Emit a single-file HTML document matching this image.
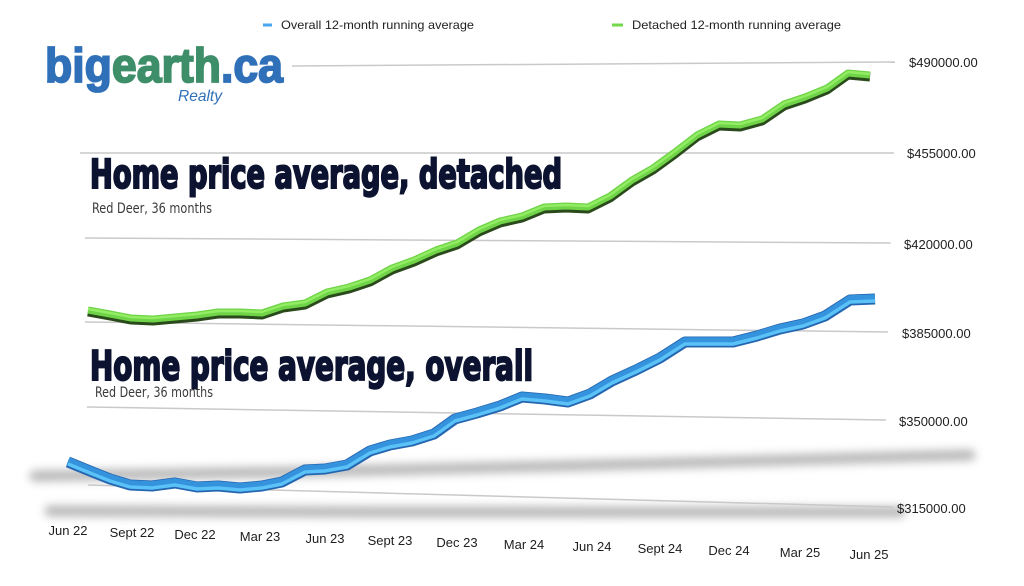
<!DOCTYPE html>
<html>
<head>
<meta charset="utf-8">
<style>
html,body{margin:0;padding:0;background:#fff;}
body{width:1024px;height:586px;overflow:hidden;}
svg{display:block;}
</style>
</head>
<body>
<svg width="1024" height="586" viewBox="0 0 1024 586" xmlns="http://www.w3.org/2000/svg">
<defs>
  <filter id="blur" filterUnits="userSpaceOnUse" x="0" y="0" width="1024" height="586">
    <feGaussianBlur stdDeviation="4.5"/>
  </filter>
</defs>
<rect width="1024" height="586" fill="#ffffff"/>

<!-- floor shadows -->
<path d="M35,476 C200,474 400,470 560,466 C720,461 850,457 970,455" stroke="#9a9a9a" stroke-width="11" fill="none" filter="url(#blur)" stroke-linecap="round" opacity="0.7"/>
<path d="M50,511 C250,512 500,512 700,512 C800,512 860,512 900,512" stroke="#9a9a9a" stroke-width="11" fill="none" filter="url(#blur)" stroke-linecap="round" opacity="0.7"/>

<!-- gridlines -->
<g stroke="#c9c9c9" stroke-width="1.5" fill="none">
  <line x1="292" y1="66" x2="895" y2="62"/>
  <line x1="80" y1="153" x2="894" y2="153"/>
  <line x1="85" y1="238" x2="891" y2="243"/>
  <line x1="85" y1="322" x2="888" y2="332"/>
  <line x1="87" y1="407" x2="886" y2="420"/>
  <line x1="88" y1="485" x2="893" y2="507"/>
</g>

<!-- Y labels -->
<g font-family="Liberation Sans, Arial, sans-serif" font-size="13" fill="#1e1e1e">
  <text x="909" y="67">$490000.00</text>
  <text x="907" y="158">$455000.00</text>
  <text x="904" y="249">$420000.00</text>
  <text x="902" y="338">$385000.00</text>
  <text x="899" y="426">$350000.00</text>
  <text x="897" y="513">$315000.00</text>
</g>

<!-- X labels -->
<g font-family="Liberation Sans, Arial, sans-serif" font-size="13" fill="#1e1e1e" text-anchor="middle">
  <text x="68" y="535">Jun 22</text>
  <text x="132" y="537">Sept 22</text>
  <text x="195" y="539">Dec 22</text>
  <text x="260" y="541">Mar 23</text>
  <text x="325" y="543">Jun 23</text>
  <text x="390" y="545">Sept 23</text>
  <text x="457" y="547">Dec 23</text>
  <text x="524" y="549">Mar 24</text>
  <text x="592" y="551">Jun 24</text>
  <text x="660" y="553">Sept 24</text>
  <text x="729" y="555">Dec 24</text>
  <text x="800" y="557">Mar 25</text>
  <text x="869" y="559">Jun 25</text>
</g>

<!-- Legend -->
<line x1="263" y1="25" x2="272" y2="25" stroke="#4aa6ee" stroke-width="3"/>
<text x="281" y="29" font-family="Liberation Sans, Arial, sans-serif" font-size="12" fill="#222" textLength="193" lengthAdjust="spacingAndGlyphs">Overall 12-month running average</text>
<line x1="612" y1="25" x2="623" y2="25" stroke="#72d84a" stroke-width="3"/>
<text x="632" y="29" font-family="Liberation Sans, Arial, sans-serif" font-size="12" fill="#222" textLength="209" lengthAdjust="spacingAndGlyphs">Detached 12-month running average</text>

<!-- Headings -->
<text x="90" y="188" font-family="Liberation Sans Narrow, DejaVu Sans Condensed, sans-serif" font-weight="bold" font-size="40" fill="#0c1330" stroke="#0c1330" stroke-width="2" textLength="472" lengthAdjust="spacingAndGlyphs">Home price average, detached</text>
<text x="92" y="213" font-family="Liberation Sans Narrow, DejaVu Sans Condensed, sans-serif" font-size="14" fill="#3a3a3a" textLength="120" lengthAdjust="spacingAndGlyphs">Red Deer, 36 months</text>

<text x="90" y="380" font-family="Liberation Sans Narrow, DejaVu Sans Condensed, sans-serif" font-weight="bold" font-size="41" fill="#0c1330" stroke="#0c1330" stroke-width="2" textLength="443" lengthAdjust="spacingAndGlyphs">Home price average, overall</text>
<text x="95" y="397" font-family="Liberation Sans Narrow, DejaVu Sans Condensed, sans-serif" font-size="14" fill="#3a3a3a" textLength="118" lengthAdjust="spacingAndGlyphs">Red Deer, 36 months</text>

<!-- Green series (detached) -->
<g fill="none" stroke-linejoin="round" stroke-linecap="butt">
  <polyline transform="translate(0,2)" stroke="#2a4a1c" stroke-width="9"
    points="88,310 110,314 131,318 153,319 175,317 197,315 218,312 240,312 262,313 283,306 305,303 327,292 349,287 370,280 392,268 414,260 436,250 457,243 479,230 500,221 522,216 544,207 566,206 588,207 610,196 632,180 653,168 675,152 697,135 719,124 740,125 762,119 784,104 805,97 827,88 848,73 870,75"/>
  <polyline stroke="#6fd447" stroke-width="7"
    points="88,310 110,314 131,318 153,319 175,317 197,315 218,312 240,312 262,313 283,306 305,303 327,292 349,287 370,280 392,268 414,260 436,250 457,243 479,230 500,221 522,216 544,207 566,206 588,207 610,196 632,180 653,168 675,152 697,135 719,124 740,125 762,119 784,104 805,97 827,88 848,73 870,75"/>
  <polyline transform="translate(0,-1)" stroke="#92ec64" stroke-width="2.5"
    points="88,310 110,314 131,318 153,319 175,317 197,315 218,312 240,312 262,313 283,306 305,303 327,292 349,287 370,280 392,268 414,260 436,250 457,243 479,230 500,221 522,216 544,207 566,206 588,207 610,196 632,180 653,168 675,152 697,135 719,124 740,125 762,119 784,104 805,97 827,88 848,73 870,75"/>
</g>

<!-- Blue series (overall) -->
<g fill="none" stroke-linejoin="round" stroke-linecap="butt">
  <polyline stroke="#2566b0" stroke-width="11"
    points="68,462 90,471 110,479 130,485 152,486 175,483 197,487 218,486 240,488 262,486 282,482 305,470 325,469 347,465 370,451 390,445 412,441 434,434 455,419 477,413 500,406 522,397 545,399 568,402 590,394 612,381 636,370 660,358 685,342 710,342 733,342 757,336 780,329 803,324 825,316 850,300 875,299"/>
  <polyline transform="translate(0,-1)" stroke="#3592dd" stroke-width="7.5"
    points="68,462 90,471 110,479 130,485 152,486 175,483 197,487 218,486 240,488 262,486 282,482 305,470 325,469 347,465 370,451 390,445 412,441 434,434 455,419 477,413 500,406 522,397 545,399 568,402 590,394 612,381 636,370 660,358 685,342 710,342 733,342 757,336 780,329 803,324 825,316 850,300 875,299"/>
  <polyline transform="translate(0,2)" stroke="#5ac2f7" stroke-width="3.5"
    points="68,462 90,471 110,479 130,485 152,486 175,483 197,487 218,486 240,488 262,486 282,482 305,470 325,469 347,465 370,451 390,445 412,441 434,434 455,419 477,413 500,406 522,397 545,399 568,402 590,394 612,381 636,370 660,358 685,342 710,342 733,342 757,336 780,329 803,324 825,316 850,300 875,299"/>
</g>

<!-- Logo -->
<text x="45" y="82" font-family="Liberation Sans, Arial, sans-serif" font-weight="bold" font-size="48" textLength="238" lengthAdjust="spacingAndGlyphs" stroke-width="1.8"><tspan fill="#2f70b8" stroke="#2f70b8">big</tspan><tspan fill="#3d8e69" stroke="#3d8e69">earth</tspan><tspan fill="#2f70b8" stroke="#2f70b8">.ca</tspan></text>
<text x="178" y="101" font-family="Liberation Sans, Arial, sans-serif" font-style="italic" font-size="16" fill="#2f70b8" textLength="44" lengthAdjust="spacingAndGlyphs">Realty</text>
</svg>
</body>
</html>
